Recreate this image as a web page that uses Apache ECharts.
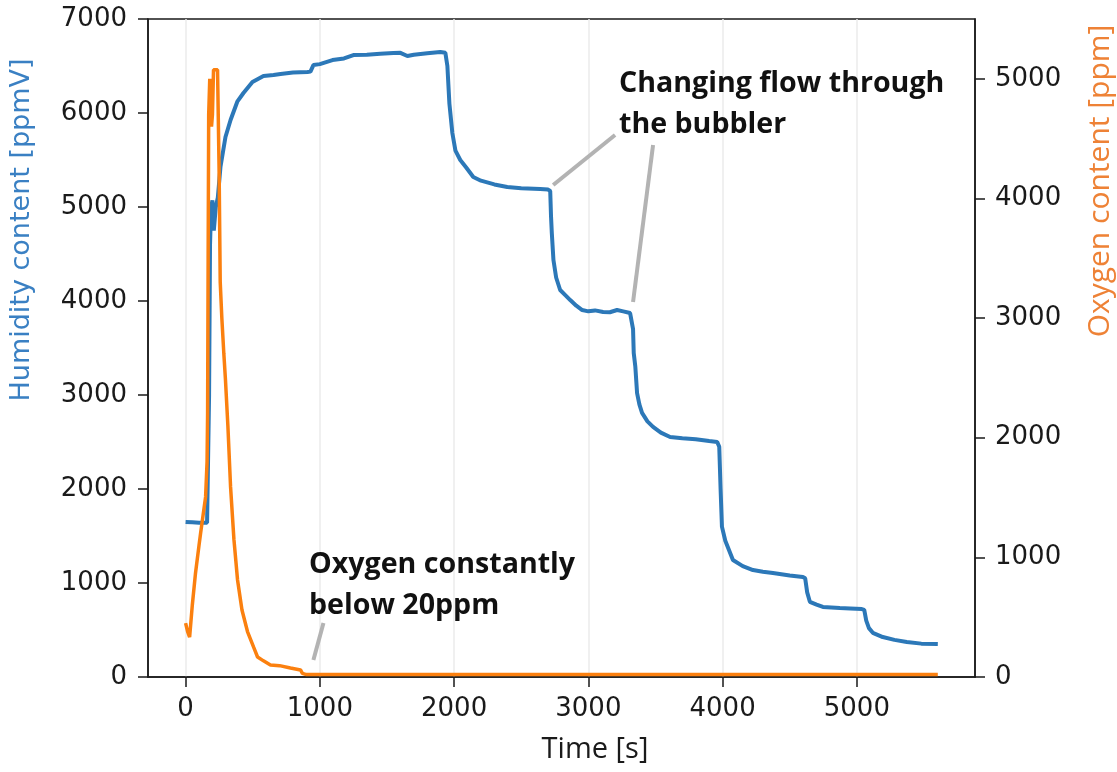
<!DOCTYPE html>
<html>
<head>
<meta charset="utf-8">
<script src="https://cdn.jsdelivr.net/npm/echarts@6/dist/echarts.min.js"></script>
<style>
html, body { margin: 0; padding: 0; background: #fff; }
#chart { width: 1117px; height: 772px; }
</style>
</head>
<body>
<div id="chart"></div>
<script>
// Humidity trace (left axis): time [s] and content [ppmV]
const humTime = [0, 50, 100, 160, 168, 175, 182, 190, 200, 210, 225, 240, 260, 297, 335, 385, 431, 498, 580, 655, 707, 800, 908, 930, 952, 1000, 1094, 1180, 1250, 1350, 1450, 1548, 1600, 1652, 1700, 1800, 1897, 1935, 1950, 1965, 1987, 2010, 2046, 2090, 2143, 2200, 2300, 2396, 2500, 2641, 2700, 2716, 2722, 2728, 2740, 2760, 2790, 2830, 2865, 2910, 2954, 3000, 3050, 3110, 3160, 3214, 3260, 3311, 3325, 3333, 3338, 3350, 3363, 3380, 3400, 3440, 3482, 3540, 3609, 3700, 3800, 3900, 3960, 3975, 3985, 3995, 4020, 4077, 4150, 4226, 4300, 4375, 4500, 4598, 4615, 4630, 4650, 4700, 4747, 4873, 4950, 5037, 5055, 5070, 5090, 5119, 5193, 5280, 5372, 5480, 5603];
const humValue = [1650, 1645, 1640, 1640, 1660, 3000, 4600, 5000, 5070, 4750, 5000, 5100, 5430, 5745, 5926, 6120, 6213, 6330, 6394, 6404, 6415, 6430, 6436, 6440, 6510, 6520, 6563, 6580, 6617, 6620, 6630, 6638, 6640, 6606, 6620, 6635, 6649, 6640, 6500, 6100, 5787, 5600, 5500, 5420, 5319, 5280, 5240, 5213, 5200, 5191, 5185, 5170, 4900, 4720, 4436, 4250, 4117, 4060, 4010, 3950, 3904, 3890, 3900, 3883, 3880, 3904, 3890, 3872, 3860, 3700, 3447, 3300, 3021, 2900, 2809, 2720, 2660, 2600, 2553, 2540, 2530, 2510, 2500, 2450, 2000, 1600, 1450, 1245, 1180, 1138, 1120, 1106, 1080, 1064, 1050, 900, 800, 770, 745, 734, 730, 723, 715, 600, 520, 470, 425, 395, 372, 355, 351];

// Oxygen trace (right axis): time [s] and content [ppm]
const o2Time = [0, 15, 30, 50, 74, 100, 112, 130, 149, 160, 164, 168, 172, 180, 185, 193, 200, 208, 238, 250, 258, 270, 285, 297, 315, 335, 360, 387, 420, 461, 506, 536, 580, 632, 700, 781, 856, 870, 900, 1500, 2500, 3500, 4500, 5603];
const o2Value = [450, 380, 334, 600, 870, 1100, 1204, 1350, 1505, 1800, 2207, 3500, 4700, 5000, 4990, 4600, 4700, 5075, 5075, 4200, 3300, 3000, 2700, 2483, 2100, 1589, 1150, 811, 560, 380, 251, 167, 135, 100, 95, 75, 59, 30, 20, 20, 20, 20, 20, 20];

// Axis ticks
const timeTicks = [0, 1000, 2000, 3000, 4000, 5000];
const oxygenTicks = [0, 1000, 2000, 3000, 4000, 5000];

// Leader lines for the annotations, in (time, humidity) units
const flowLeader1 = [[2738, 5234], [3199, 5766]];
const flowLeader2 = [[3482, 5660], [3333, 3989]];
const oxygenLeader = [[1027, 574], [952, 181]];

const zip = (xs, ys) => xs.map((x, i) => [x, ys[i]]);
const plain = v => String(v);

const tickFont = { fontFamily: 'DejaVu Sans', fontSize: 26, color: '#1a1a1a', formatter: plain };
const axisLine = { show: true, onZero: false, lineStyle: { color: '#1a1a1a', width: 1.5 } };
const tickLine = { color: '#1a1a1a', width: 1.5 };
const leaderStyle = { color: '#b3b3b3', width: 4 };

const chart = echarts.init(document.getElementById('chart'));
chart.setOption({
  animation: false,
  backgroundColor: '#fff',
  grid: { left: 148, right: 142, top: 19, bottom: 95, show: true, borderColor: '#1a1a1a', borderWidth: 1.5, backgroundColor: 'transparent' },
  xAxis: {
    type: 'value', min: -280, max: 5880,
    axisLine: axisLine,
    axisTick: { show: true, length: 10, customValues: timeTicks, lineStyle: tickLine },
    axisLabel: Object.assign({ margin: 19, customValues: timeTicks }, tickFont),
    splitLine: { show: true, lineStyle: { color: '#ebebeb', width: 1.5 } }
  },
  yAxis: [
    {
      type: 'value', min: 0, max: 7000, interval: 1000, position: 'left',
      axisLine: axisLine,
      axisTick: { show: true, length: 10, lineStyle: tickLine },
      axisLabel: Object.assign({ margin: 21 }, tickFont),
      splitLine: { show: false }
    },
    {
      type: 'value', min: 0, max: 5500, position: 'right',
      axisLine: axisLine,
      axisTick: { show: true, length: 10, customValues: oxygenTicks, lineStyle: tickLine },
      axisLabel: Object.assign({ margin: 20, customValues: oxygenTicks }, tickFont),
      splitLine: { show: false }
    }
  ],
  series: [
    {
      name: 'Humidity', type: 'line', yAxisIndex: 0, data: zip(humTime, humValue),
      showSymbol: false, lineStyle: { color: '#2c78b8', width: 4 }, z: 3
    },
    {
      name: 'Oxygen', type: 'line', yAxisIndex: 1, data: zip(o2Time, o2Value),
      showSymbol: false, lineStyle: { color: '#fb800f', width: 3.5 }, z: 4
    },
    { type: 'line', yAxisIndex: 0, data: flowLeader1, showSymbol: false, silent: true, lineStyle: leaderStyle, z: 2 },
    { type: 'line', yAxisIndex: 0, data: flowLeader2, showSymbol: false, silent: true, lineStyle: leaderStyle, z: 2 },
    { type: 'line', yAxisIndex: 0, data: oxygenLeader, showSymbol: false, silent: true, lineStyle: leaderStyle, z: 2 }
  ],
  graphic: [
    { type: 'text', rotation: Math.PI / 2, x: 22, y: 230,
      style: { text: 'Humidity content [ppmV]', fill: '#3a80c3', font: '27px "DejaVu Sans"', align: 'center', verticalAlign: 'middle' } },
    { type: 'text', rotation: Math.PI / 2, x: 1100, y: 181,
      style: { text: 'Oxygen content [ppm]', fill: '#ee8236', font: '30px "Open Sans"', align: 'center', verticalAlign: 'middle' } },
    { type: 'text', x: 595, y: 750,
      style: { text: 'Time [s]', fill: '#1a1a1a', font: '29px "Open Sans"', align: 'center', verticalAlign: 'middle' } },
    { type: 'text', x: 619, y: 104,
      style: { text: 'Changing flow through\nthe bubbler', fill: '#111', font: 'bold 28.6px "Open Sans"', lineHeight: 41, align: 'left', verticalAlign: 'middle' }, z: 10 },
    { type: 'text', x: 309, y: 585,
      style: { text: 'Oxygen constantly\nbelow 20ppm', fill: '#111', font: 'bold 28.6px "Open Sans"', lineHeight: 41, align: 'left', verticalAlign: 'middle' }, z: 10 }
  ]
});
</script>
</body>
</html>
